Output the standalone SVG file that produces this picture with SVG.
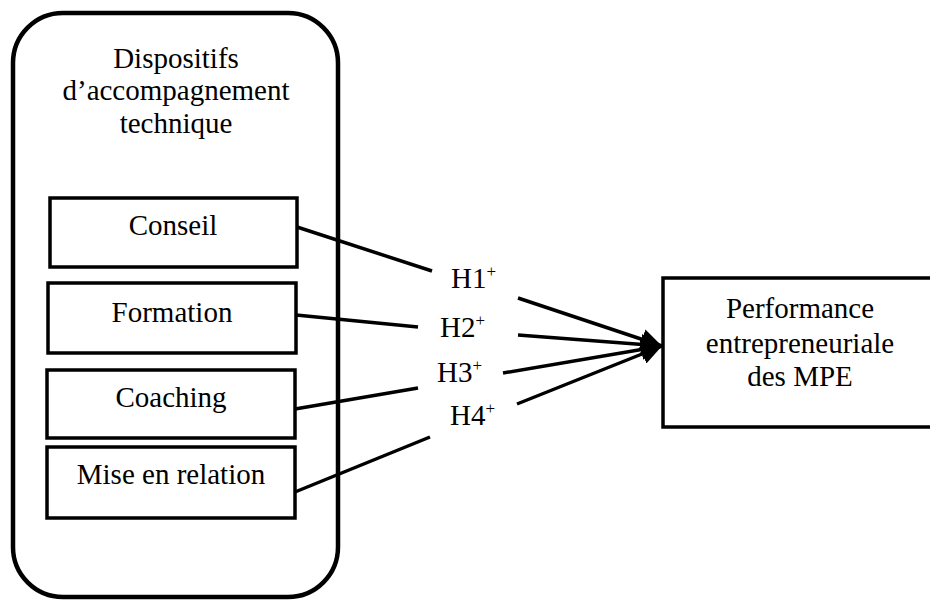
<svg xmlns="http://www.w3.org/2000/svg" width="930" height="600" viewBox="0 0 930 600">
<style>
  text { font-family: "Liberation Serif", "Times New Roman", serif; font-size: 29px; fill: #000; text-anchor: middle; }
  .lbl { text-anchor: start; }
  .sup { font-size: 17px; }
  .box { fill: #fff; stroke: #000; stroke-width: 3.5; }
  .edge { stroke: #000; stroke-width: 3.5; fill: none; }
</style>
<defs>
  <marker id="arr" viewBox="0 0 10 10" refX="10" refY="5" markerWidth="6" markerHeight="6" orient="auto" markerUnits="strokeWidth">
    <path d="M0,0 L10,5 L0,10 z" fill="#000"/>
  </marker>
</defs>
<rect width="930" height="600" fill="#fff"/>
<g id="group-dispositifs">
  <rect x="13" y="13" width="325" height="584" rx="50" ry="50" fill="#fff" stroke="#000" stroke-width="4.5"/>
  <text x="176" y="68">Dispositifs</text>
  <text x="176" y="100">d’accompagnement</text>
  <text x="176" y="133">technique</text>
</g>
<g id="node-conseil">
  <rect class="box" x="50" y="198" width="247" height="69"/>
  <text x="173" y="235">Conseil</text>
</g>
<g id="node-formation">
  <rect class="box" x="48" y="283" width="248" height="70"/>
  <text x="172" y="322">Formation</text>
</g>
<g id="node-coaching">
  <rect class="box" x="47" y="370" width="248" height="68"/>
  <text x="171" y="407">Coaching</text>
</g>
<g id="node-mise">
  <rect class="box" x="47" y="447" width="248" height="71"/>
  <text x="171" y="484">Mise en relation</text>
</g>
<g id="node-performance">
  <rect class="box" x="663" y="278" width="320" height="149" stroke-width="4.5"/>
  <text x="800" y="318">Performance</text>
  <text x="800" y="353">entrepreneuriale</text>
  <text x="800" y="386">des MPE</text>
</g>
<g id="connectors">
  <line class="edge" x1="297" y1="227" x2="432" y2="271"/>
  <line class="edge" x1="296" y1="315" x2="418" y2="327"/>
  <line class="edge" x1="295" y1="409" x2="418" y2="388"/>
  <line class="edge" x1="295" y1="492" x2="430" y2="437"/>
  <line class="edge" x1="518" y1="298" x2="662" y2="346" marker-end="url(#arr)"/>
  <line class="edge" x1="518" y1="335" x2="662" y2="346" marker-end="url(#arr)"/>
  <line class="edge" x1="503" y1="373" x2="662" y2="346" marker-end="url(#arr)"/>
  <line class="edge" x1="517" y1="404" x2="662" y2="346" marker-end="url(#arr)"/>
</g>
<g id="labels">
  <text class="lbl" x="451" y="288">H1<tspan class="sup" dy="-11">+</tspan></text>
  <text class="lbl" x="440" y="337">H2<tspan class="sup" dy="-11">+</tspan></text>
  <text class="lbl" x="437" y="382">H3<tspan class="sup" dy="-11">+</tspan></text>
  <text class="lbl" x="450" y="425">H4<tspan class="sup" dy="-11">+</tspan></text>
</g>
</svg>
